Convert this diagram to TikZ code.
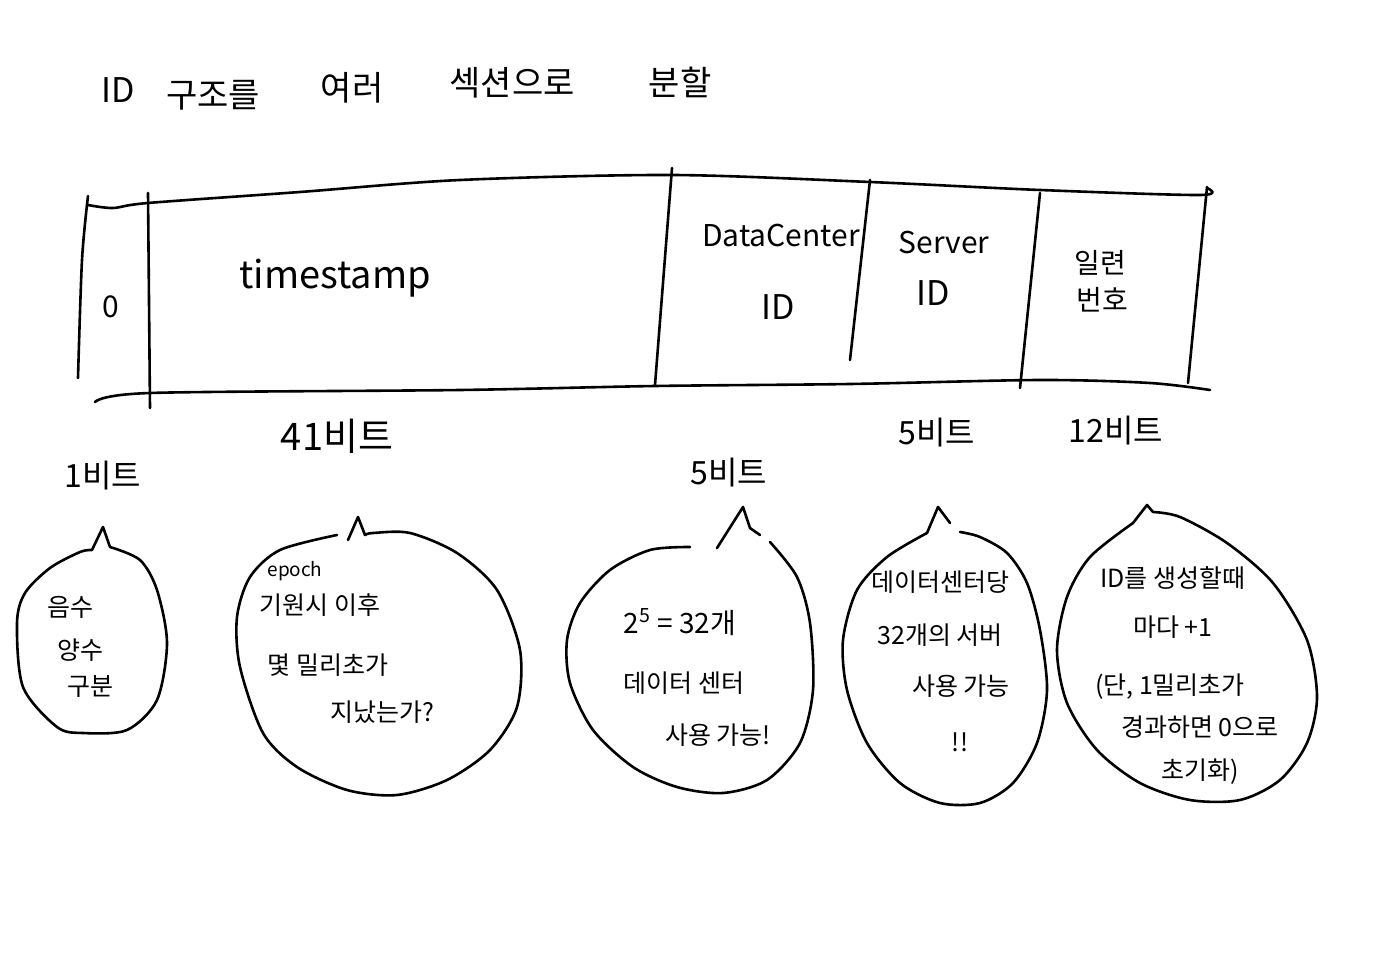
\documentclass[tikz,border=0pt]{standalone}
\usepackage{fontspec}
\setmainfont{Noto Sans CJK KR}
\begin{document}
\begin{tikzpicture}[x=0.5pt,y=-0.5pt,
  pen/.style={line width=1.3pt,line cap=round,line join=round},
  ttl/.style={font=\fontsize{17}{19}\selectfont,inner sep=0pt},
  boxtxt/.style={font=\fontsize{15}{17}\selectfont,inner sep=0pt},
  lbl/.style={font=\fontsize{16}{18}\selectfont,inner sep=0pt},
  bub/.style={font=\fontsize{12.5}{14}\selectfont,inner sep=0pt}]
\useasboundingbox[fill=white] (0,0) rectangle (1386,962);

% title
\node[ttl] (t1) at (118,90) {ID};
\node[ttl] (t2) at (213,95) {구조를};
\node[ttl] (t3) at (352,88) {여러};
\node[ttl] (t4) at (512,83) {섹션으로};
\node[ttl] (t5) at (680,82) {분할};

% bit layout box
\draw[pen] plot[smooth] coordinates {(88,205) (113,208) (148,203) (300,192) (460,180) (672,175) (870,182) (1040,190) (1200,195) (1207,188)};
\draw[pen] plot[smooth] coordinates {(95,402) (150,393) (460,390) (655,386) (850,384) (1040,380) (1150,383) (1210,390)};
\draw[pen] plot[smooth] coordinates {(88,196) (82,260) (78,378)};
\draw[pen] (148,193) -- (150,408);
\draw[pen] (672,168) -- (655,385);
\draw[pen] (870,180) -- (850,360);
\draw[pen] (1040,193) -- (1020,388);
\draw[pen] (1207,187) -- (1188,383);

\node[boxtxt] (f0) at (111,307) {0};
\node[boxtxt,font=\fontsize{19}{21}\selectfont] (f1) at (335,278) {timestamp};
\node[boxtxt] (f2a) at (781,236) {DataCenter};
\node[boxtxt,font=\fontsize{17}{19}\selectfont] (f2b) at (778,307) {ID};
\node[boxtxt] (f3a) at (944,243) {Server};
\node[boxtxt,font=\fontsize{17}{19}\selectfont] (f3b) at (933,293) {ID};
\node[boxtxt,font=\fontsize{14}{16}\selectfont] (f4a) at (1100,263) {일련};
\node[boxtxt,font=\fontsize{14}{16}\selectfont] (f4b) at (1102,300) {번호};

% bit counts
\node[lbl] (b0) at (103,476) {1비트};
\node[lbl,font=\fontsize{19}{21}\selectfont] (b1) at (337,436) {41비트};
\node[lbl] (b2) at (729,473) {5비트};
\node[lbl] (b3) at (937,433) {5비트};
\node[lbl] (b4) at (1116,431) {12비트};

% bubble 1
\draw[pen] plot[smooth] coordinates {(110,547) (140,560) (157,590) (167,643) (157,700) (127,730) (83,733) (57,727) (23,687) (17,623) (25,593) (50,568) (80,552) (92,550)} -- (103,527) -- (110,547);
\node[bub] (s1a) at (70,607) {음수};
\node[bub] (s1b) at (80,650) {양수};
\node[bub] (s1c) at (90,687) {구분};

% bubble 2
\draw[pen] plot[smooth] coordinates {(365,535) (373,533) (410,533) (457,553) (497,590) (520,650) (517,707) (490,750) (447,780) (397,795) (347,790) (297,767) (263,733) (240,667) (237,617) (250,577) (280,550) (337,535)};
\draw[pen] (348,540) -- (358,517) -- (365,535);
\node[bub,font=\fontsize{9.5}{11}\selectfont] (s2a) at (295,571) {epoch};
\node[bub] (s2b) at (320,605) {기원시 이후};
\node[bub] (s2c) at (328,665) {몇 밀리초가};
\node[bub] (s2d) at (382,712) {지났는가?};

% bubble 3
\draw[pen] plot[smooth] coordinates {(770,542) (797,577) (810,623) (813,690) (800,743) (767,780) (723,793) (677,787) (633,767) (593,730) (570,683) (567,640) (580,603) (610,570) (650,550) (690,547)};
\draw[pen] (717,548) -- (743,507) -- (750,528) -- (760,535);
\node[bub,font=\fontsize{14}{16}\selectfont] (s3a) at (680,622) {2\textsuperscript{5} = 32개};
\node[bub] (s3b) at (684,683) {데이터 센터};
\node[bub] (s3c) at (718,735) {사용 가능!};

% bubble 4
\draw[pen] plot[smooth] coordinates {(960,532) (980,537) (1007,553) (1027,583) (1040,630) (1047,690) (1037,743) (1013,783) (980,803) (940,803) (900,783) (867,743) (847,690) (843,640) (857,590) (887,557) (927,533)} -- (938,507) -- (950,523);
\node[bub] (s4a) at (940,582) {데이터센터당};
\node[bub] (s4b) at (940,635) {32개의 서버};
\node[bub] (s4c) at (961,686) {사용 가능};
\node[bub] (s4d) at (960,742) {!!};

% bubble 5
\draw[pen] plot[smooth] coordinates {(1153,512) (1180,517) (1227,543) (1273,583) (1307,640) (1317,697) (1307,743) (1280,780) (1240,800) (1190,800) (1140,783) (1097,750) (1067,703) (1057,650) (1067,597) (1090,557) (1133,523)} -- (1147,505) -- (1153,512);
\node[bub] (s5a) at (1173,578) {ID를 생성할때};
\node[bub] (s5b) at (1173,627) {마다 +1};
\node[bub] (s5c) at (1170,687) {(단, 1밀리초가};
\node[bub] (s5d) at (1200,727) {경과하면 0으로};
\node[bub] (s5e) at (1200,772) {초기화)};
\end{tikzpicture}
\end{document}
